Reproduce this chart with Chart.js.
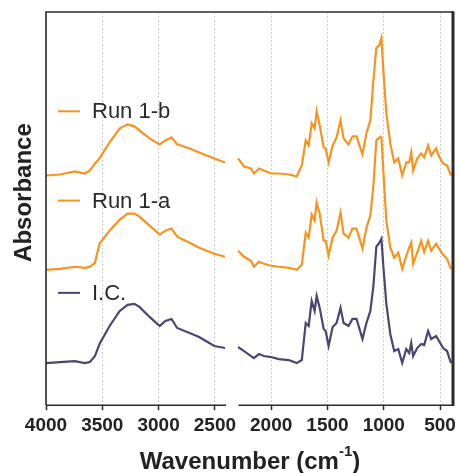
<!DOCTYPE html>
<html>
<head>
<meta charset="utf-8">
<script src="https://cdn.jsdelivr.net/npm/chart.js@4"></script>
<style>
  html, body { margin: 0; padding: 0; background: #fff; }
  #wrap { width: 460px; height: 473px; }
</style>
</head>
<body>
<div id="wrap"><canvas id="ftir"></canvas></div>
<script>
// Wavenumbers (cm-1) of both segments, axis is broken between them
const leftWn = [4000, 3875, 3745, 3655, 3610, 3565, 3525, 3435, 3345, 3275, 3215, 3170, 3080, 2990, 2940, 2885, 2835, 2725, 2640, 2505, 2410];
const rightWn = [2294, 2241, 2179, 2153, 2109, 2064, 2002, 1932, 1843, 1773, 1728, 1693, 1667, 1640, 1614, 1596, 1569, 1534, 1516, 1490,
  1454, 1419, 1384, 1357, 1313, 1278, 1242, 1189, 1154, 1119, 1092, 1066, 1039, 1021, 1004, 977, 942, 907, 871, 836,
  800, 774, 756, 739, 703, 668, 641, 606, 579, 535, 509, 473, 438, 403];

// Offset absorbance (arbitrary units)
const icLeft = [42, 43, 44, 42, 43, 49, 61, 79, 94, 100, 101, 98, 88, 79, 84, 86, 77, 72, 68, 59, 57];
const icRight = [58, 54, 49, 47, 51, 49, 48, 46, 45, 42, 45, 82, 79, 104, 94, 109, 97, 76, 74, 59,
  78, 82, 97, 82, 79, 86, 86, 66, 82, 94, 119, 158, 162, 166, 139, 101, 71, 54, 56, 42,
  56, 52, 62, 49, 57, 61, 60, 74, 66, 69, 64, 57, 54, 42];

const runALeft = [135, 136, 138, 137, 138, 142, 161, 174, 185, 191, 191, 188, 179, 170, 174, 176, 168, 162, 157, 151, 148];
const runARight = [154, 148, 144, 138, 143, 141, 139, 138, 137, 135, 140, 172, 167, 190, 184, 202, 191, 164, 164, 149,
  167, 174, 192, 171, 167, 176, 176, 156, 177, 189, 219, 264, 267, 267, 234, 184, 157, 147, 152, 136,
  149, 157, 162, 141, 152, 164, 153, 164, 154, 161, 156, 150, 146, 136];

const runBLeft = [229, 230, 233, 231, 234, 241, 246, 262, 276, 280, 278, 274, 266, 260, 264, 267, 260, 256, 252, 246, 242];
const runBRight = [246, 238, 236, 231, 236, 234, 231, 231, 230, 228, 239, 264, 259, 281, 276, 293, 279, 257, 256, 242,
  259, 267, 284, 266, 260, 268, 268, 250, 271, 284, 324, 356, 359, 366, 334, 291, 261, 242, 246, 229,
  242, 242, 252, 234, 246, 251, 247, 259, 249, 256, 248, 241, 239, 229];

const xTicks = [4000, 3500, 3000, 2500, 2000, 1500, 1000, 500];
const breakFrom = 2400;
const breakTo = 2290;

const ORANGE = '#F7941E';
const PURPLE = '#4A4571';

function toPoints(lv, rv) {
  const pts = leftWn.map((x, i) => ({ x, y: lv[i] }));
  pts.push({ x: (breakFrom + breakTo) / 2, y: null }); // break
  return pts.concat(rightWn.map((x, i) => ({ x, y: rv[i] })));
}

// legend labels sit inside the plot, at these heights (same units as y)
const legendLevels = { 'Run 1-b': 293, 'Run 1-a': 204, 'I.C.': 112 };

const framePlugin = {
  id: 'frame',
  afterDraw(chart) {
    const { ctx, chartArea: a, scales: { x, y } } = chart;
    ctx.save();
    ctx.strokeStyle = '#2b2b2b';
    ctx.lineWidth = 1.6;
    // left, top and bottom lines, bottom one broken
    const gx1 = x.getPixelForValue(breakFrom);
    const gx2 = x.getPixelForValue(breakTo);
    ctx.beginPath();
    ctx.moveTo(a.left, a.bottom); ctx.lineTo(a.left, a.top);
    ctx.lineTo(a.right, a.top);
    ctx.moveTo(a.left, a.bottom); ctx.lineTo(gx1, a.bottom);
    ctx.moveTo(gx2, a.bottom); ctx.lineTo(a.right, a.bottom);
    ctx.stroke();
    ctx.lineWidth = 3;
    ctx.beginPath();
    ctx.moveTo(a.right, a.top - 0.8); ctx.lineTo(a.right, a.bottom + 0.8);
    ctx.stroke();

    // legend
    ctx.font = '22px "Liberation Sans", Arial, sans-serif';
    ctx.textBaseline = 'middle';
    ctx.textAlign = 'left';
    chart.data.datasets.forEach(ds => {
      const py = y.getPixelForValue(legendLevels[ds.label]);
      ctx.strokeStyle = ds.borderColor;
      ctx.lineWidth = 2;
      ctx.beginPath();
      ctx.moveTo(a.left + 12, py); ctx.lineTo(a.left + 34, py);
      ctx.stroke();
      ctx.fillStyle = '#2a2a2a';
      ctx.fillText(ds.label, a.left + 46, py + 1);
    });

    // axis titles
    ctx.fillStyle = '#222';
    ctx.font = 'bold 24px "Liberation Sans", Arial, sans-serif';
    ctx.save();
    ctx.translate(24, (a.top + a.bottom) / 2 - 16);
    ctx.rotate(-Math.PI / 2);
    ctx.textAlign = 'center';
    ctx.fillText('Absorbance', 0, 0);
    ctx.restore();

    const main = 'Wavenumber (cm';
    const sup = '-1';
    const close = ')';
    const supFont = 'bold 15px "Liberation Sans", Arial, sans-serif';
    const w1 = ctx.measureText(main).width;
    const w3 = ctx.measureText(close).width;
    ctx.font = supFont;
    const w2 = ctx.measureText(sup).width;
    let tx = 250 - (w1 + w2 + w3) / 2;
    const ty = 462;
    ctx.textAlign = 'left';
    ctx.font = 'bold 24px "Liberation Sans", Arial, sans-serif';
    ctx.fillText(main, tx, ty);
    tx += w1;
    ctx.font = supFont;
    ctx.fillText(sup, tx, ty - 10);
    tx += w2;
    ctx.font = 'bold 24px "Liberation Sans", Arial, sans-serif';
    ctx.fillText(close, tx, ty);
    ctx.restore();
  }
};

new Chart(document.getElementById('ftir'), {
  type: 'line',
  data: {
    datasets: [
      { label: 'Run 1-b', data: toPoints(runBLeft, runBRight), borderColor: ORANGE },
      { label: 'Run 1-a', data: toPoints(runALeft, runARight), borderColor: ORANGE },
      { label: 'I.C.', data: toPoints(icLeft, icRight), borderColor: PURPLE }
    ].map(d => Object.assign(d, { borderWidth: 2.2, pointRadius: 0, tension: 0, spanGaps: false, fill: false }))
  },
  options: {
    responsive: true,
    maintainAspectRatio: false,
    animation: false,
    layout: { padding: { left: 46, top: 12, right: 3, bottom: 32 } },
    plugins: { legend: { display: false }, tooltip: { enabled: false } },
    scales: {
      x: {
        type: 'linear',
        reverse: true,
        min: 385,
        max: 4000,
        afterBuildTicks: (scale) => { scale.ticks = xTicks.map(v => ({ value: v })); },
        grid: {
          color: '#cfcfcf',
          lineWidth: 1,
          tickLength: 5,
          tickColor: '#2b2b2b',
          tickWidth: 1.5,
          tickBorderDash: []
        },
        border: { display: false, dash: [2, 2] },
        ticks: {
          color: '#222',
          padding: 4,
          maxRotation: 0,
          autoSkip: false,
          callback: (v) => String(v),
          font: { family: '"Liberation Sans", Arial, sans-serif', size: 19, weight: 'bold' }
        }
      },
      y: {
        display: false,
        min: 0,
        max: 392
      }
    }
  },
  plugins: [framePlugin]
});
</script>
</body>
</html>
